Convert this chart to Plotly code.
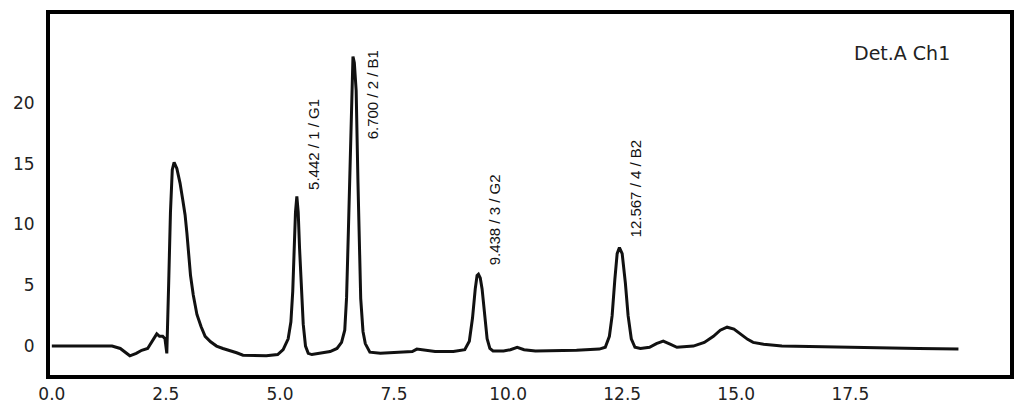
import plotly.graph_objects as go

# retention time (min) and detector signal
time_min = [
    0.0, 1.32, 1.5, 1.71, 1.85, 1.97, 2.1, 2.19, 2.3, 2.36, 2.43, 2.48,
    2.52, 2.56, 2.6, 2.64, 2.68, 2.74, 2.81, 2.87, 2.92, 2.96, 3.0, 3.04,
    3.1, 3.18, 3.27, 3.36, 3.48, 3.61, 3.75, 3.9, 4.05, 4.19, 4.7, 4.95,
    5.07, 5.18, 5.24, 5.28, 5.31, 5.34, 5.37, 5.4, 5.43, 5.47, 5.51, 5.56,
    5.62, 5.7, 5.9, 6.1, 6.25, 6.35, 6.42, 6.46, 6.5, 6.54, 6.57, 6.6,
    6.63, 6.67, 6.71, 6.74, 6.77, 6.82, 6.87, 6.97, 7.2, 7.6, 7.9, 8.0,
    8.1, 8.4, 8.8, 9.05, 9.15, 9.22, 9.28, 9.32, 9.35, 9.39, 9.43, 9.49,
    9.54, 9.6, 9.67, 9.9, 10.05, 10.2, 10.35, 10.6, 11.0, 11.5, 12.0, 12.13,
    12.22, 12.28, 12.34, 12.39, 12.44, 12.5, 12.57, 12.63, 12.7, 12.78, 12.9, 13.1,
    13.25, 13.4, 13.55, 13.7, 14.06, 14.3, 14.5, 14.65, 14.8, 14.95, 15.09, 15.25,
    15.37, 15.6, 16.0, 17.0, 18.2, 19.0, 19.87,
]
signal = [
    0.0, 0.0, -0.2, -0.8, -0.6, -0.35, -0.2, 0.35, 1.0, 0.8, 0.8, 0.6,
    -0.6, 5.0, 11.0, 14.5, 15.1, 14.6, 13.4, 12.0, 10.8, 9.3, 7.5, 5.8,
    4.2, 2.6, 1.6, 0.8, 0.35, 0.0, -0.2, -0.35, -0.55, -0.75, -0.8, -0.7,
    -0.3, 0.6, 2.0, 4.5, 8.0, 11.0, 12.3, 11.0, 8.0, 4.5, 1.8, 0.0,
    -0.6, -0.7, -0.6, -0.45, -0.2, 0.3, 1.3, 4.0, 9.5, 16.0, 21.0, 23.8,
    23.3, 21.0, 13.4, 8.0, 3.9, 1.2, 0.2, -0.5, -0.6, -0.5, -0.45, -0.25,
    -0.3, -0.45, -0.45, -0.3, 0.4, 2.3, 4.7, 5.8, 5.9, 5.6, 4.7, 2.4,
    0.6, -0.2, -0.4, -0.4, -0.3, -0.1, -0.3, -0.4, -0.4, -0.35, -0.25, -0.1,
    0.8, 2.5, 5.5, 7.6, 8.1, 7.6, 5.2, 2.5, 0.6, -0.1, -0.2, -0.1,
    0.2, 0.4, 0.15, -0.1, 0.0, 0.3, 0.8, 1.3, 1.55, 1.4, 1.0, 0.55,
    0.3, 0.15, 0.0, -0.05, -0.1, -0.2, -0.25,
]

# peak labels: text, x position, bottom of the label
peak_labels = ["5.442 / 1 / G1", "6.700 / 2 / B1", "9.438 / 3 / G2", "12.567 / 4 / B2"]
label_x = [5.72, 7.02, 9.71, 12.79]
label_y = [12.7, 16.8, 6.5, 8.8]

x_ticks = [0.0, 2.5, 5.0, 7.5, 10.0, 12.5, 15.0, 17.5]
y_ticks = [0, 5, 10, 15, 20]

fig = go.Figure()
fig.add_trace(go.Scatter(x=time_min, y=signal, mode="lines",
                         line=dict(color="#111111", width=3),
                         showlegend=False, hoverinfo="skip"))

for txt, lx, ly in zip(peak_labels, label_x, label_y):
    fig.add_annotation(x=lx, y=ly, text=txt, showarrow=False, textangle=-90,
                       xanchor="center", yanchor="bottom",
                       font=dict(family="Liberation Sans, Arial", size=15, color="#111111"))

fig.add_annotation(x=0.9396, y=0.893, xref="paper", yref="paper", text="Det.A Ch1",
                   showarrow=False, xanchor="right", yanchor="middle",
                   font=dict(family="DejaVu Sans", size=19, color="#222222"))

fig.update_xaxes(range=[-0.04, 21.0], tickvals=x_ticks,
                 ticktext=[f"{v:.1f}" for v in x_ticks],
                 showgrid=False, zeroline=False, ticks="", automargin=False,
                 showline=True, linecolor="black", linewidth=4, mirror=True,
                 ticklabelstandoff=1,
                 tickfont=dict(family="DejaVu Sans", size=17, color="#222222"))
fig.update_yaxes(range=[-2.38, 27.3], tickvals=y_ticks,
                 showgrid=False, zeroline=False, ticks="", automargin=False,
                 showline=True, linecolor="black", linewidth=4, mirror=True,
                 ticklabelstandoff=8,
                 tickfont=dict(family="DejaVu Sans", size=17, color="#222222"))
fig.update_layout(width=1024, height=416, plot_bgcolor="white", paper_bgcolor="white",
                  margin=dict(l=50, r=14, t=14, b=41))

# drop the browser's default body margin so the figure sits at the page origin
fig.write_html("out.html", config={"displayModeBar": False},
               post_script="document.body.style.margin='0';")
